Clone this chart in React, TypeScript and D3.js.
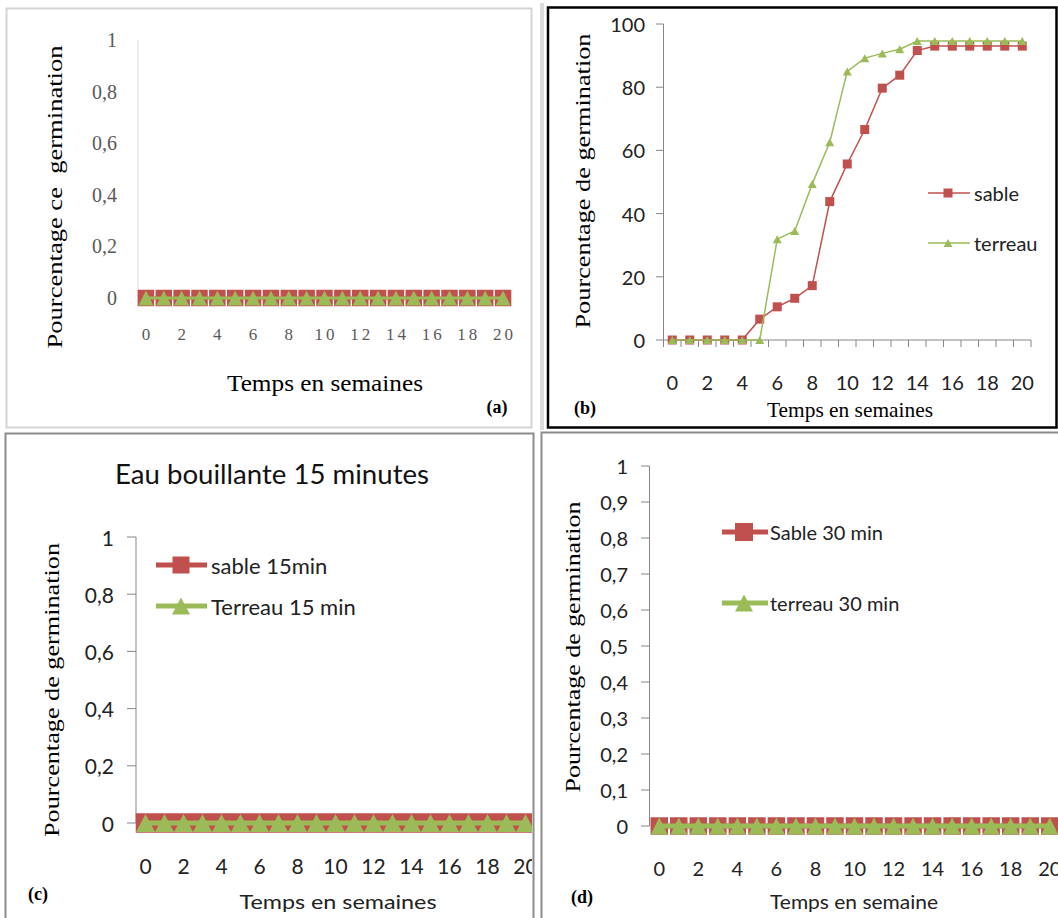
import React from 'react';
import * as d3 from 'd3';

// ---------- data ----------
const weeks = [0, 1, 2, 3, 4, 5, 6, 7, 8, 9, 10, 11, 12, 13, 14, 15, 16, 17, 18, 19, 20];
const xTickWeeks = [0, 2, 4, 6, 8, 10, 12, 14, 16, 18, 20];

// (a) témoin
const sableA = [0, 0, 0, 0, 0, 0, 0, 0, 0, 0, 0, 0, 0, 0, 0, 0, 0, 0, 0, 0, 0];
const terreauA = [0, 0, 0, 0, 0, 0, 0, 0, 0, 0, 0, 0, 0, 0, 0, 0, 0, 0, 0, 0, 0];
// (b)
const sableB = [0, 0, 0, 0, 0, 6.6, 10.5, 13.2, 17.2, 43.8, 55.7, 66.6, 79.7, 83.8, 91.6, 93, 93, 93, 93, 93, 93];
const terreauB = [0, 0, 0, 0, 0, 0, 31.9, 34.5, 49.4, 62.6, 85, 89.2, 90.7, 92, 94.6, 94.6, 94.6, 94.6, 94.6, 94.6, 94.6];
// (c) eau bouillante 15 min
const sableC = [0, 0, 0, 0, 0, 0, 0, 0, 0, 0, 0, 0, 0, 0, 0, 0, 0, 0, 0, 0, 0];
const terreauC = [0, 0, 0, 0, 0, 0, 0, 0, 0, 0, 0, 0, 0, 0, 0, 0, 0, 0, 0, 0, 0];
// (d) 30 min
const sableD = [0, 0, 0, 0, 0, 0, 0, 0, 0, 0, 0, 0, 0, 0, 0, 0, 0, 0, 0, 0, 0];
const terreauD = [0, 0, 0, 0, 0, 0, 0, 0, 0, 0, 0, 0, 0, 0, 0, 0, 0, 0, 0, 0, 0];

const yTicksA = [0, 0.2, 0.4, 0.6, 0.8, 1];
const yTicksB = [0, 20, 40, 60, 80, 100];
const yTicksC = [0, 0.2, 0.4, 0.6, 0.8, 1];
const yTicksD = [0, 0.1, 0.2, 0.3, 0.4, 0.5, 0.6, 0.7, 0.8, 0.9, 1];

const legendB = ['sable', 'terreau'];
const legendC = ['sable 15min', 'Terreau 15 min'];
const legendD = ['Sable 30 min', 'terreau 30 min'];

// ---------- styles ----------
const RED = '#C0504D';
const GREEN = '#9BBB59';
const SANS = "Lato, 'Open Sans', sans-serif";
const SERIF = "'Liberation Serif', 'Times New Roman', serif";

const fmt = (v: number) => String(+v.toFixed(2)).replace('.', ',');

const tri = (cx: number, cy: number, w: number, h: number) =>
  `M${cx},${cy - h / 2}L${cx + w / 2},${cy + h / 2}L${cx - w / 2},${cy + h / 2}Z`;

function Series({ x, y, data, kind, lineW, size, triH }: any) {
  const cx = (w: number) => (x(w) as number) + x.bandwidth() / 2;
  const line = d3.line<number>().x((d, i) => cx(weeks[i])).y((d) => y(d));
  const color = kind === 'sq' ? RED : GREEN;
  return (
    <g>
      <path d={line(data) || ''} fill="none" stroke={color} strokeWidth={lineW} />
      {data.map((d: number, i: number) =>
        kind === 'sq' ? (
          <rect key={i} x={cx(weeks[i]) - size / 2} y={y(d) - size / 2} width={size} height={size} fill={RED} />
        ) : (
          <path key={i} d={tri(cx(weeks[i]), y(d), size, triH)} fill={GREEN} />
        )
      )}
    </g>
  );
}

function RotLabel({ x, y, text, len, size }: any) {
  return (
    <text
      transform={`translate(${x},${y}) rotate(-90)`}
      textAnchor="middle"
      dominantBaseline="central"
      fontFamily={SERIF}
      fontSize={size}
      textLength={len}
      lengthAdjust="spacingAndGlyphs"
      fill="#000"
      style={{ whiteSpace: 'pre' }}
    >
      {text}
    </text>
  );
}

function PanelA() {
  const x = d3.scaleBand<number>().domain(weeks).range([137, 512]);
  const y = d3.scaleLinear().domain([0, 1]).range([298, 40]);
  return (
    <g>
      <rect x={6.5} y={8.5} width={525} height={419} fill="#fff" stroke="#d4d4d4" strokeWidth={2} />
      <line x1={138} x2={138} y1={y(1)} y2={y(0) + 8} stroke="#d9d9d9" strokeWidth={1} />
      {yTicksA.map((t) => (
        <text key={t} x={117} y={y(t)} textAnchor="end" dominantBaseline="central" fontFamily={SERIF} fontSize={20} fill="#595959">
          {fmt(t)}
        </text>
      ))}
      {xTickWeeks.map((w) => (
        <text key={w} x={(x(w) as number) + x.bandwidth() / 2 + 1.5} y={334} textAnchor="middle" dominantBaseline="central" fontFamily={SERIF} fontSize={17} letterSpacing={3} fill="#595959">
          {w}
        </text>
      ))}
      <Series x={x} y={y} data={sableA} kind="sq" lineW={3} size={16.5} />
      <Series x={x} y={y} data={terreauA} kind="tri" lineW={3} size={15} triH={15} />
      <RotLabel x={54} y={197} text="Pourcentage ce  germination" len={303} size={22} />
      <text x={325} y={391} textAnchor="middle" fontFamily={SERIF} fontSize={24} textLength={196} lengthAdjust="spacingAndGlyphs">
        Temps en semaines
      </text>
      <text x={497} y={413} textAnchor="middle" fontFamily={SERIF} fontSize={18} fontWeight="bold">
        (a)
      </text>
    </g>
  );
}

function PanelB() {
  const x = d3.scaleBand<number>().domain(weeks).range([663.5, 1031]);
  const y = d3.scaleLinear().domain([0, 100]).range([340, 24]);
  const bounds = weeks.map((w) => x(w) as number).concat([1031]);
  return (
    <g>
      <rect x={540} y={3} width={4} height={427} fill="#dcdcdc" />
      <rect x={548} y={7.5} width={508.5} height={420} fill="#fff" stroke="#000" strokeWidth={2.5} />
      <line x1={663.5} x2={663.5} y1={y(100)} y2={y(0)} stroke="#868686" />
      {yTicksB.map((t) => (
        <g key={t}>
          <line x1={656} x2={663.5} y1={y(t)} y2={y(t)} stroke="#868686" />
          <text x={645} y={y(t)} textAnchor="end" dominantBaseline="central" fontFamily={SANS} fontSize={20} fill="#222">
            {t}
          </text>
        </g>
      ))}
      <line x1={663.5} x2={1031} y1={y(0)} y2={y(0)} stroke="#868686" />
      {bounds.map((b, i) => (
        <line key={i} x1={b} x2={b} y1={y(0)} y2={y(0) + 7} stroke="#868686" />
      ))}
      {xTickWeeks.map((w) => (
        <text key={w} x={(x(w) as number) + x.bandwidth() / 2} y={382} textAnchor="middle" dominantBaseline="central" fontFamily={SANS} fontSize={20} fill="#222">
          {w}
        </text>
      ))}
      <Series x={x} y={y} data={sableB} kind="sq" lineW={1.5} size={9} />
      <Series x={x} y={y} data={terreauB} kind="tri" lineW={1.5} size={9} triH={8} />
      {/* legend */}
      <line x1={928} x2={970} y1={193} y2={193} stroke={RED} strokeWidth={1.5} />
      <rect x={943.5} y={188.5} width={9} height={9} fill={RED} />
      <text x={974} y={193} dominantBaseline="central" fontFamily={SANS} fontSize={20} fill="#222">
        {legendB[0]}
      </text>
      <line x1={928} x2={970} y1={243} y2={243} stroke={GREEN} strokeWidth={1.5} />
      <path d={tri(948, 243, 9, 8)} fill={GREEN} />
      <text x={974} y={243} dominantBaseline="central" fontFamily={SANS} fontSize={20} fill="#222">
        {legendB[1]}
      </text>
      <RotLabel x={583} y={181} text="Pourcentage de germination" len={295} size={21} />
      <text x={850} y={417} textAnchor="middle" fontFamily={SERIF} fontSize={21} textLength={166} lengthAdjust="spacingAndGlyphs">
        Temps en semaines
      </text>
      <text x={585} y={414} textAnchor="middle" fontFamily={SERIF} fontSize={18} fontWeight="bold">
        (b)
      </text>
    </g>
  );
}

function PanelC() {
  const x = d3.scaleBand<number>().domain(weeks).range([136, 535]);
  const y = d3.scaleLinear().domain([0, 1]).range([823, 537]);
  return (
    <g>
      <defs>
        <clipPath id="clipC">
          <rect x={6.5} y={434} width={525.5} height={484} />
        </clipPath>
      </defs>
      <rect x={5.5} y={433.5} width={528} height={490} fill="#fff" stroke="#8c8c8c" strokeWidth={2} />
      <text x={272} y={484} textAnchor="middle" fontFamily={SANS} fontSize={26} textLength={314} lengthAdjust="spacingAndGlyphs" fill="#111">
        Eau bouillante 15 minutes
      </text>
      <line x1={136} x2={136} y1={y(1)} y2={y(0)} stroke="#868686" />
      {yTicksC.map((t) => (
        <g key={t}>
          <line x1={127} x2={136} y1={y(t)} y2={y(t)} stroke="#868686" />
          <text x={114} y={y(t)} textAnchor="end" dominantBaseline="central" fontFamily={SANS} fontSize={21} fill="#222">
            {fmt(t)}
          </text>
        </g>
      ))}
      <g clipPath="url(#clipC)">
        {xTickWeeks.map((w) => (
          <text key={w} x={(x(w) as number) + x.bandwidth() / 2} y={865} textAnchor="middle" dominantBaseline="central" fontFamily={SANS} fontSize={21} fill="#222">
            {w}
          </text>
        ))}
        <Series x={x} y={y} data={sableC} kind="sq" lineW={5} size={19.5} />
        <Series x={x} y={y} data={terreauC} kind="tri" lineW={5} size={19} triH={18} />
      </g>
      {/* legend */}
      <line x1={156} x2={207} y1={565} y2={565} stroke={RED} strokeWidth={5} />
      <rect x={172.5} y={556.5} width={17} height={17} fill={RED} />
      <text x={211} y={565} dominantBaseline="central" fontFamily={SANS} fontSize={22} fill="#222">
        {legendC[0]}
      </text>
      <line x1={156} x2={207} y1={606} y2={606} stroke={GREEN} strokeWidth={5} />
      <path d={tri(181, 606, 18, 17)} fill={GREEN} />
      <text x={211} y={606} dominantBaseline="central" fontFamily={SANS} fontSize={22} fill="#222">
        {legendC[1]}
      </text>
      <RotLabel x={52} y={690} text="Pourcentage de germination" len={294} size={21} />
      <text x={338} y={909} textAnchor="middle" fontFamily={SANS} fontSize={20} textLength={197} lengthAdjust="spacingAndGlyphs" fill="#222">
        Temps en semaines
      </text>
      <text x={38} y={900} textAnchor="middle" fontFamily={SERIF} fontSize={18} fontWeight="bold">
        (c)
      </text>
    </g>
  );
}

function PanelD() {
  const x = d3.scaleBand<number>().domain(weeks).range([649.5, 1059.5]);
  const y = d3.scaleLinear().domain([0, 1]).range([826, 466]);
  return (
    <g>
      <rect x={541.5} y={432.5} width={520} height={490} fill="#fff" stroke="#8c8c8c" strokeWidth={2} />
      <line x1={649.5} x2={649.5} y1={y(1)} y2={y(0)} stroke="#868686" />
      {yTicksD.map((t) => (
        <g key={t}>
          <line x1={641} x2={649.5} y1={y(t)} y2={y(t)} stroke="#868686" />
          <text x={628} y={y(t)} textAnchor="end" dominantBaseline="central" fontFamily={SANS} fontSize={20} fill="#222">
            {fmt(t)}
          </text>
        </g>
      ))}
      {xTickWeeks.map((w) => (
        <text key={w} x={(x(w) as number) + x.bandwidth() / 2} y={868} textAnchor="middle" dominantBaseline="central" fontFamily={SANS} fontSize={20} fill="#222">
          {w}
        </text>
      ))}
      <Series x={x} y={y} data={sableD} kind="sq" lineW={5} size={17.5} />
      <Series x={x} y={y} data={terreauD} kind="tri" lineW={5} size={17} triH={17} />
      {/* legend */}
      <line x1={722} x2={768} y1={532} y2={532} stroke={RED} strokeWidth={5} />
      <rect x={735} y={523} width={18} height={18} fill={RED} />
      <text x={770} y={532} dominantBaseline="central" fontFamily={SANS} fontSize={20} fill="#222">
        {legendD[0]}
      </text>
      <line x1={722} x2={768} y1={603} y2={603} stroke={GREEN} strokeWidth={5} />
      <path d={tri(744, 603, 18, 17)} fill={GREEN} />
      <text x={770} y={603} dominantBaseline="central" fontFamily={SANS} fontSize={20} fill="#222">
        {legendD[1]}
      </text>
      <RotLabel x={573} y={647} text="Pourcentage de germination" len={291} size={21} />
      <text x={854} y={909} textAnchor="middle" fontFamily={SANS} fontSize={20} textLength={168} lengthAdjust="spacingAndGlyphs" fill="#222">
        Temps en semaine
      </text>
      <text x={582} y={903} textAnchor="middle" fontFamily={SERIF} fontSize={18} fontWeight="bold">
        (d)
      </text>
    </g>
  );
}

export default function App() {
  return (
    <svg
      width={1058}
      height={918}
      viewBox="0 0 1058 918"
      style={{ position: 'absolute', left: 0, top: 0, display: 'block', background: '#fff' }}
    >
      <rect x={0} y={0} width={1058} height={918} fill="#fff" />
      <PanelA />
      <PanelB />
      <PanelC />
      <PanelD />
    </svg>
  );
}
